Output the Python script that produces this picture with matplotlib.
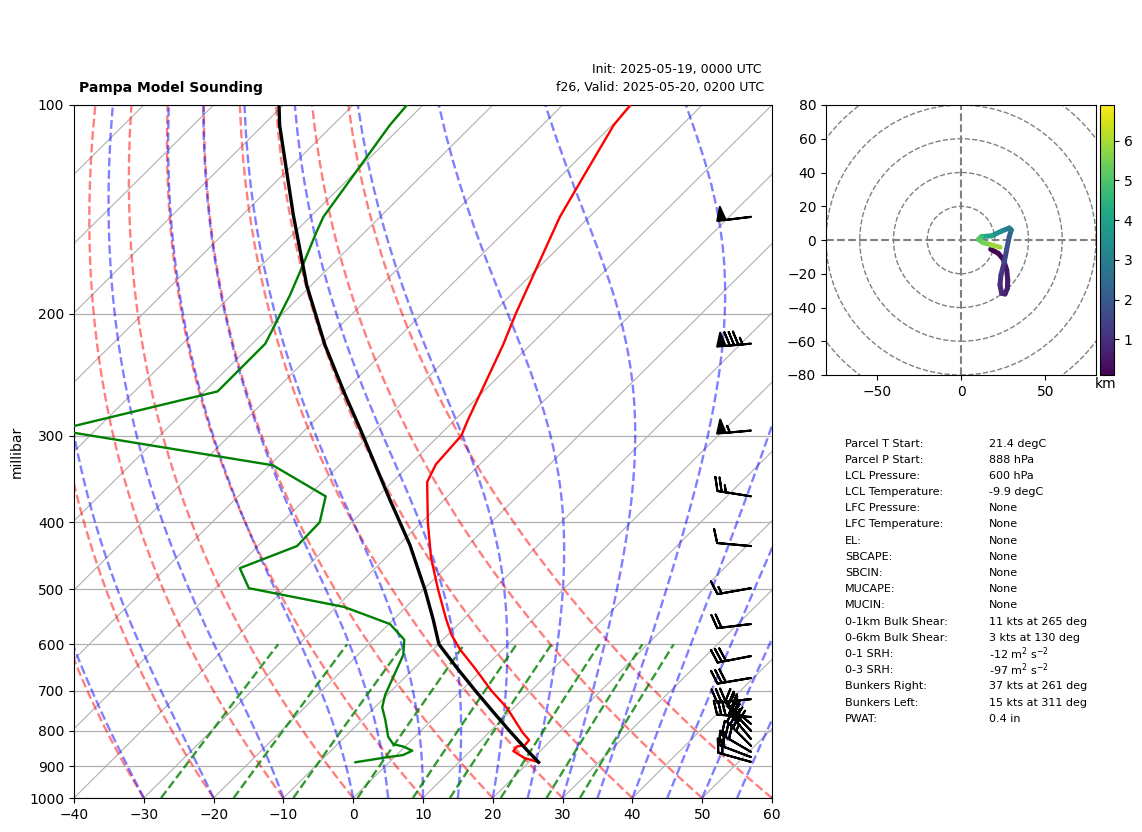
import numpy as np
import matplotlib
matplotlib.use("Agg")
import matplotlib.pyplot as plt
from matplotlib.collections import LineCollection
from matplotlib.colors import Normalize
from matplotlib.cm import ScalarMappable
from matplotlib.patches import Circle
from matplotlib.transforms import Affine2D

W, H = 1142, 832

# Sounding data
temp_p = [888, 875, 855.5, 843, 838.6, 825, 805, 741, 700, 650, 611, 582, 553, 500, 450, 400, 350, 330, 300, 285, 250, 222, 200, 145, 125, 107, 100]
temp_c = [21.4, 18.67, 16.16, 16.02, 16.96, 16.85, 14.86, 9.0, 4.3, -1.26, -6.06, -9.41, -12.39, -17.95, -23.53, -29.1, -35.0, -36.3, -36.8, -38.1, -41.14, -43.9, -46.6, -54.25, -56.96, -59.76, -60.3]
dewp_p = [888, 873.5, 867, 854.6, 843, 836, 816, 771, 740, 710, 661, 622, 591, 561, 530, 498, 466, 433, 400, 367, 331, 294.5, 259, 221, 188, 174, 152.4, 145, 107, 100]
dewp_c = [-4.84, -1.07, 0.93, 1.64, -0.22, -2.05, -3.82, -6.7, -8.92, -10.3, -12.01, -13.45, -15.52, -19.84, -28.88, -45.23, -49.41, -44.41, -44.59, -47.48, -59.54, -95.5, -78.1, -78.15, -81.63, -83.56, -86.95, -88.13, -91.84, -92.3]
parcel_p = [888, 850, 800, 750, 700, 650, 600, 553, 501, 431.5, 371.5, 294, 262, 222, 182, 144, 107, 100]
parcel_c = [21.4, 17.7, 12.7, 7.5, 2.0, -3.8, -9.9, -14.26, -19.72, -28.37, -37.73, -52.13, -59.32, -69.41, -80.65, -92.75, -107.6, -110.63]

# Wind barbs
barb_p = [887, 873, 858, 841, 822, 800, 782, 764, 720, 671, 624, 561, 498, 433, 367, 295, 221, 145]
barb_u = [18, 21, 24, 25, 26, 25, 24, 29, 29.5, 29.5, 29.4, 19.9, 14.8, 10, 24.7, 54.8, 84.7, 49.6]
barb_v = [-5, -8, -14, -25, -31, -26, -20, -2, 3, 5, 5.7, 2.4, 2.6, -0.9, -3.9, 4.8, 7.4, 6.1]

# Hodograph
hodo_u = [17.6, 22.1, 25.1, 27.1, 27.7, 27.5, 26.1, 24.1, 23.1, 23.7, 25.7, 27, 28.6, 29.8, 28.6, 24.1, 18.2, 12.2, 10.3, 13.2, 18.2, 23.1]
hodo_v = [-5.5, -7.9, -11.5, -17.8, -23.7, -28.6, -32, -31.6, -26.7, -20.7, -12.9, -5.9, 2, 5.9, 7.1, 5.3, 2.5, 2, 0.4, -1.6, -3, -4.3]
hodo_z = [0.1, 0.2, 0.3, 0.4, 0.5, 0.6, 0.7, 0.8, 0.9, 1.05, 1.3, 1.7, 2.1, 2.5, 2.75, 3.2, 3.7, 4.5, 5.0, 5.4, 5.7, 6.1]

# Background line families
dry_t0 = [-40, -30, -20, -10, 0, 10, 20, 30, 40, 50, 60]
moist_t0 = [-40, -30, -20, -10, 0, 5, 10, 15, 20, 25, 30, 35, 40, 45, 50, 55, 60]
mixing_w = [0.0004, 0.001, 0.002, 0.004, 0.007, 0.01, 0.016, 0.024, 0.032]
iso_t = list(range(-140, 70, 10))

p_ticks = [100, 200, 300, 400, 500, 600, 700, 800, 900, 1000]
t_ticks = [-40, -30, -20, -10, 0, 10, 20, 30, 40, 50, 60]

table_labels = ["Parcel T Start:", "Parcel P Start:", "LCL Pressure:", "LCL Temperature:", "LFC Pressure:",
                "LFC Temperature:", "EL:", "SBCAPE:", "SBCIN:", "MUCAPE:", "MUCIN:", "0-1km Bulk Shear:",
                "0-6km Bulk Shear:", "0-1 SRH:", "0-3 SRH:", "Bunkers Right:", "Bunkers Left:", "PWAT:"]
table_values = ["21.4 degC", "888 hPa", "600 hPa", "-9.9 degC", "None", "None", "None", "None", "None", "None",
                "None", "11 kts at 265 deg", "3 kts at 130 deg", r"-12 m$^{2}$ s$^{-2}$", r"-97 m$^{2}$ s$^{-2}$",
                "37 kts at 261 deg", "15 kts at 311 deg", "0.4 in"]
table_rows = [444, 460, 476, 492, 508, 524, 540.5, 557, 573, 589, 605.5, 622, 638, 654, 670, 686, 703, 719]


def box(x0, y0, x1, y1):
    return [x0 / W, 1 - y1 / H, (x1 - x0) / W, (y1 - y0) / H]


def fx(x):
    return x / W


def fy(y):
    return 1 - y / H


fig = plt.figure(figsize=(W / 100, H / 100), dpi=100)
ax = fig.add_axes(box(74, 105, 772, 798))
ax.set_yscale("log")
ax.set_xlim(-40, 60)
ax.set_ylim(1000, 100)
ax.set_autoscale_on(False)
skew = ax.transScale + ax.transLimits + Affine2D().skew_deg(45, 0) + ax.transAxes

ax.set_yticks(p_ticks)
ax.set_yticklabels([str(v) for v in p_ticks])
ax.minorticks_off()
ax.tick_params(axis="y", which="minor", left=False, labelleft=False)
ax.set_xticks(t_ticks)
ax.tick_params(labelsize=10)
ax.yaxis.grid(True, color="#b0b0b0", lw=0.9)
ax.set_axisbelow(True)
ax.set_ylabel("millibar", fontsize=10, labelpad=4)

pp = np.linspace(1000, 100, 91)
for t in iso_t:
    ax.plot([t, t], [1000, 100], color="#b0b0b0", lw=0.8, transform=skew, zorder=1)
for t0 in dry_t0:
    ax.plot((t0 + 273.15) * (pp / 1000) ** 0.286 - 273.15, pp, color="r", alpha=0.5, ls="--", lw=1.7,
            transform=skew, zorder=2)


def es(tk):
    tc = tk - 273.15
    return 6.112 * np.exp(17.67 * tc / (tc + 243.5))


def moist_slope(p, tk):
    rs = 0.622 * es(tk) / (p - es(tk))
    lv = 2.501e6
    return (287.05 * tk + lv * rs) / (1005.0 + lv * lv * rs * 0.622 / (287.05 * tk * tk)) / p


for t0 in moist_t0:
    tk = t0 + 273.15
    vals = [tk]
    for i in range(len(pp) - 1):
        h = pp[i + 1] - pp[i]
        k1 = moist_slope(pp[i], tk)
        k2 = moist_slope(pp[i] + h / 2, tk + h * k1 / 2)
        k3 = moist_slope(pp[i] + h / 2, tk + h * k2 / 2)
        k4 = moist_slope(pp[i] + h, tk + h * k3)
        tk = tk + h * (k1 + 2 * k2 + 2 * k3 + k4) / 6
        vals.append(tk)
    ax.plot(np.array(vals) - 273.15, pp, color="b", alpha=0.5, ls="--", lw=1.7, transform=skew, zorder=2)

pm = np.linspace(1000, 600, 40)
for w in mixing_w:
    e = pm * w / (0.622 + w)
    ln = np.log(e / 6.112)
    ax.plot(243.5 * ln / (17.67 - ln), pm, color="g", alpha=0.8, ls="--", lw=1.7, transform=skew, zorder=2)

ax.plot(temp_c, temp_p, color="r", lw=1.7, transform=skew, zorder=4)
ax.plot(dewp_c, dewp_p, color="g", lw=1.7, transform=skew, zorder=4)
ax.plot(parcel_c, parcel_p, color="k", lw=2.4, transform=skew, zorder=5)

ax.barbs(np.full(len(barb_p), 0.97), barb_p, barb_u, barb_v, transform=ax.get_yaxis_transform(),
         color="k", linewidth=1.5, zorder=6)

fig.text(fx(79), fy(88), "Pampa Model Sounding", fontsize=10, fontweight="bold", ha="left", va="center")
fig.text(fx(592), fy(70), "Init: 2025-05-19, 0000 UTC", fontsize=9, ha="left", va="center")
fig.text(fx(556.5), fy(88), "f26, Valid: 2025-05-20, 0200 UTC", fontsize=9, ha="left", va="center")

# Hodograph
hx = fig.add_axes(box(826, 105, 1096, 375))
hx.set_xlim(-80, 80)
hx.set_ylim(-80, 80)
hx.set_xticks([-50, 0, 50])
hx.set_yticks([-80, -60, -40, -20, 0, 20, 40, 60, 80])
hx.tick_params(labelsize=10)
for r in [20, 40, 60, 80, 100]:
    hx.add_patch(Circle((0, 0), r, fill=False, ec="gray", ls="--", lw=1.0, zorder=1))
hx.axhline(0, color="gray", ls="--", lw=1.5, zorder=1)
hx.axvline(0, color="gray", ls="--", lw=1.5, zorder=1)

norm = Normalize(0.1, 6.9)
hu = np.array(hodo_u)
hv = np.array(hodo_v)
hz = np.array(hodo_z)
segs = np.stack([np.column_stack([hu[:-1], hv[:-1]]), np.column_stack([hu[1:], hv[1:]])], axis=1)
lc = LineCollection(segs, cmap="viridis", norm=norm, linewidths=3.6, capstyle="round", zorder=3)
lc.set_array(0.5 * (hz[:-1] + hz[1:]))
hx.add_collection(lc)

cax = fig.add_axes(box(1100, 105, 1114, 375))
cb = fig.colorbar(ScalarMappable(norm=norm, cmap="viridis"), cax=cax)
cb.set_ticks([1, 2, 3, 4, 5, 6])
cb.ax.tick_params(labelsize=10)
fig.text(fx(1106), fy(384), "km", fontsize=10, ha="center", va="center")

# Parameter table
for lab, val, y in zip(table_labels, table_values, table_rows):
    fig.text(fx(845), fy(y), lab, fontsize=8, ha="left", va="center")
    fig.text(fx(989), fy(y), val, fontsize=8, ha="left", va="center")

fig.savefig("out.png", dpi=100)
